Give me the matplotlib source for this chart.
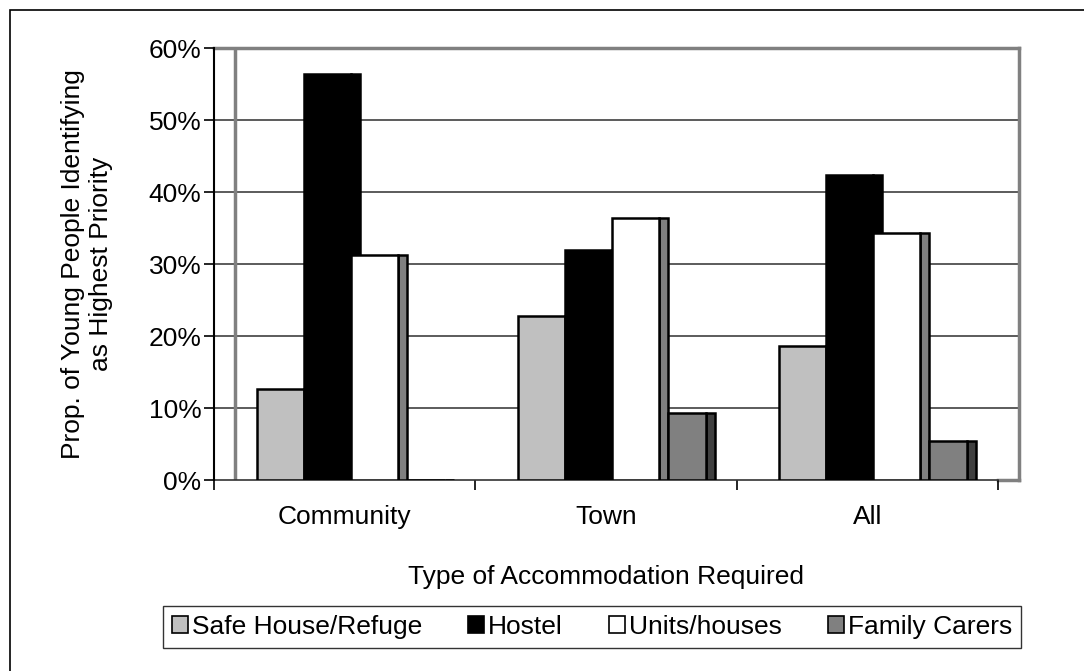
import numpy as np
import matplotlib
matplotlib.use('Agg')
from matplotlib import pyplot as plt
from matplotlib.patches import Patch, Rectangle

plt.rcParams['font.family'] = ['Liberation Sans', 'DejaVu Sans']

categories = ['Community', 'Town', 'All']
series_names = ['Safe House/Refuge', 'Hostel', 'Units/houses', 'Family Carers']
safe_house = [12.6, 22.8, 18.6]
hostel = [56.4, 32.0, 42.3]
units = [31.3, 36.4, 34.3]
family = [0.0, 9.3, 5.4]
yticks = [0, 10, 20, 30, 40, 50, 60]

front_colors = ['#C0C0C0', '#000000', '#FFFFFF', '#808080']
side_colors = ['#969696', '#000000', '#808080', '#404040']

# bar layout inside a category (data units, one category = 1)
pitch = 0.18
depth = 0.0344
group_left = -0.337
wall_shift = 0.0804

fig = plt.figure(figsize=(10.84, 6.71), dpi=100)
ax = fig.add_axes([214 / 1084, 191 / 671, 805 / 1084, 432 / 671])

x = np.arange(len(categories))
all_series = [safe_house, hostel, units, family]
for i, vals in enumerate(all_series):
    vals = np.array(vals) / 100.0
    left = group_left + i * pitch
    width = pitch
    if i == 3:
        left += depth
        width = pitch - depth
    # side face first, then the front face, so the next series hides it
    ax.bar(x + left + width, vals, width=depth, align='edge',
           color=side_colors[i], edgecolor='black', linewidth=1.8, zorder=3 + i)
    ax.bar(x + left, vals, width=width, align='edge',
           color=front_colors[i], edgecolor='black', linewidth=1.8, zorder=3 + i)

x0, x1 = -0.5, 2.5
ax.set_xlim(x0, x1 + wall_shift)
ax.set_ylim(0, 0.6)

# back wall and gridlines
for t in yticks[1:-1]:
    ax.plot([x0, x1 + wall_shift], [t / 100, t / 100], color='#404040', lw=1.2, zorder=1)
ax.plot([x0, x1 + wall_shift], [0.6, 0.6], color='#808080', lw=2.5, zorder=1, clip_on=False)
ax.plot([x1 + wall_shift] * 2, [0, 0.6], color='#808080', lw=2.5, zorder=1, clip_on=False)
ax.plot([x0 + wall_shift] * 2, [0, 0.6], color='#808080', lw=2.5, zorder=1)
ax.plot([x1, x1 + wall_shift], [0, 0], color='#808080', lw=2.5, zorder=1, clip_on=False)
ax.plot([x0, x1], [0, 0], color='#333333', lw=1.2, zorder=2, clip_on=False)

for side in ['top', 'right', 'bottom']:
    ax.spines[side].set_visible(False)
ax.spines['left'].set_linewidth(1.5)

ax.set_yticks([t / 100 for t in yticks])
ax.set_yticklabels(['%d%%' % t for t in yticks], fontsize=19)
ax.tick_params(axis='y', direction='out', length=7, width=1.2, pad=2)

ax.set_xticks([x0, 0.5, 1.5, x1])
ax.set_xticklabels([])
ax.tick_params(axis='x', which='major', direction='out', length=7, width=1.2)
ax.set_xticks(x + 0.0, minor=True)
ax.set_xticklabels(categories, minor=True, fontsize=19)
ax.tick_params(axis='x', which='minor', length=0, pad=18)

fig.text(87 / 1084, 1 - 264 / 671,
         'Prop. of Young People Identifying\nas Highest Priority',
         rotation=90, ha='center', va='center', fontsize=19,
         multialignment='center', linespacing=1.25)
fig.text(606 / 1084, 1 - 577 / 671, 'Type of Accommodation Required',
         ha='center', va='center', fontsize=19)

handles = [Patch(facecolor=c, edgecolor='black', linewidth=1.2) for c in front_colors]
leg = fig.legend(handles, series_names, loc='center', ncol=4, mode='expand',
                 bbox_to_anchor=(163 / 1084, 19 / 671, 858 / 1084, 50 / 671),
                 borderaxespad=0, fontsize=19, handlelength=0.6, handleheight=0.6,
                 handletextpad=0.15, borderpad=0.35, columnspacing=1.0,
                 fancybox=False, frameon=True)
leg.get_frame().set_edgecolor('black')
leg.get_frame().set_linewidth(1.0)

# chart border
fig.patches.append(Rectangle((10 / 1084, -0.01), 1.0, 1 - 10 / 671 + 0.01,
                             transform=fig.transFigure, fill=False,
                             edgecolor='black', linewidth=1.2))

fig.savefig('out.png', dpi=100)
